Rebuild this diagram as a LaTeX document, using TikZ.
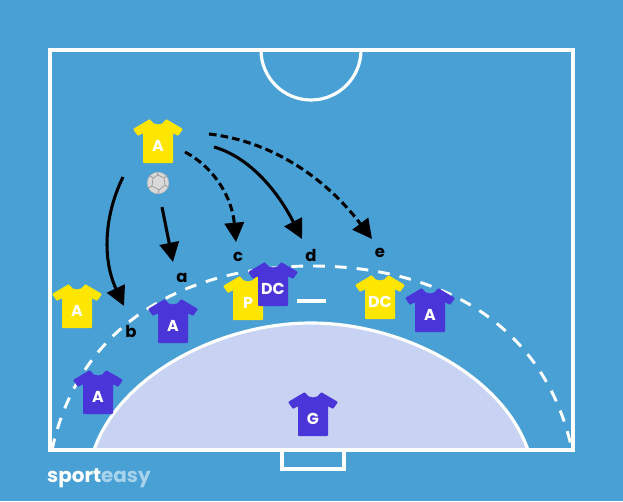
\documentclass[tikz,border=0pt]{standalone}
\usepackage{fontspec}
\setmainfont{Poppins}
\usetikzlibrary{arrows.meta}
\definecolor{courtblue}{HTML}{48A0D4}
\definecolor{shirtyellow}{HTML}{FFE600}
\definecolor{shirtblue}{HTML}{4A35D8}
\definecolor{zonefill}{HTML}{C8D2F2}
\definecolor{easyblue}{HTML}{A8D3EC}
\tikzset{
  court/.style={draw=white,line width=2.7pt},
  run/.style={draw=black,line width=2.6pt,-{Triangle[length=0.58cm,width=0.58cm]}},
  rundash/.style={run,dash pattern=on 6.5pt off 3.5pt},
  letter/.style={font=\fontsize{14}{14}\selectfont\bfseries,text=black,inner sep=0pt},
  pics/shirt/.style n args={2}{code={
    \fill[#1,rounded corners=0.8pt] (-8,-22) .. controls (-5,-15) and (5,-15) .. (8,-22)
      -- (25,-12) -- (20,-5) -- (15,-8) -- (15,22)
      -- (-15,22) -- (-15,-8) -- (-20,-5) -- (-25,-12) -- cycle;
    \node[text=white,font=\fontsize{13.5}{14}\selectfont\bfseries,inner sep=0pt] (-label) at (0,5) {#2};
  }}
}
\begin{document}
\begin{tikzpicture}[x=0.03cm,y=-0.03cm]
  \fill[courtblue] (0,0) rectangle (623,501);
  \useasboundingbox (0,0) rectangle (623,501);
  % goal zone and court lines
  \fill[zonefill] (94,450) .. controls (120,375) and (220,323) .. (311,323) .. controls (402,323) and (502,375) .. (528,450) -- cycle;
  \draw[court] (94,450) .. controls (120,375) and (220,323) .. (311,323) .. controls (402,323) and (502,375) .. (528,450);
  \draw[court,line width=2.5pt,dash pattern=on 10pt off 8.6pt] (52,450) .. controls (80,320) and (190,266) .. (312,266) .. controls (434,266) and (544,320) .. (572,450);
  \draw[court] (50,50) rectangle (573,450);
  \draw[court] (261,50) arc[start angle=180,end angle=0,radius=50];
  \draw[court] (282,450) -- (282,469) -- (344,469) -- (344,450);
  \draw[court] (297,301) -- (326,301);
  % players
  \foreach \x/\y/\c/\t/\n in {158/141/shirtyellow/A/attop,77/306/shirtyellow/A/attleft,
    248/298/shirtyellow/P/pivot,380/297/shirtyellow/DC/dcright,173/321/shirtblue/A/defleft,
    273/284/shirtblue/DC/dcdef,430/310/shirtblue/A/defright,98/392/shirtblue/A/defcorner,
    313/414/shirtblue/G/keeper}
    \pic (\n) at (\x,\y) {shirt={\c}{\t}};
  % ball
  \node[circle,fill=white!85!black,draw=white!72!black,line width=0.4pt,minimum size=0.65cm,inner sep=0pt] (ball) at (158,183) {};
  \draw[white!60!black,line width=0.6pt] (153,178) -- (158,175) -- (164,178) -- (165,185) -- (159,190) -- (152,186) -- cycle
    (158,175) -- (157,173) (164,178) -- (168,175) (165,185) -- (169,188) (159,190) -- (158,194) (152,186) -- (148,188) (153,178) -- (149,175);
  % run lines
  \coordinate (astart) at (162,207);
  \coordinate (aend) at (173,262);
  \coordinate (bstart) at (123,177);
  \coordinate (bend) at (124,306);
  \coordinate (cstart) at (185,152);
  \coordinate (cend) at (236,242);
  \coordinate (dstart) at (214,147);
  \coordinate (dend) at (302,239);
  \coordinate (estart) at (209,134);
  \coordinate (eend) at (372,239);
  \draw[run] (astart) -- (aend);
  \draw[run] (bstart) .. controls (103,218) and (103,261) .. (bend);
  \draw[rundash] (cstart) .. controls (215,168) and (232,198) .. (cend);
  \draw[run] (dstart) .. controls (246,156) and (275,186) .. (dend);
  \draw[rundash] (estart) .. controls (270,141) and (324,176) .. (eend);
  \node[letter] (la) at (182,278) {a};
  \node[letter] (lb) at (131,331) {b};
  \node[letter] (lc) at (238,257) {c};
  \node[letter] (ld) at (311,255) {d};
  \node[letter] (le) at (380,253) {e};
  % logo
  \node[anchor=west,inner sep=0pt,font=\fontsize{17}{17}\selectfont\bfseries,text=white] (logo) at (47,478) {sport\textcolor{easyblue}{easy}};
\end{tikzpicture}
\end{document}
